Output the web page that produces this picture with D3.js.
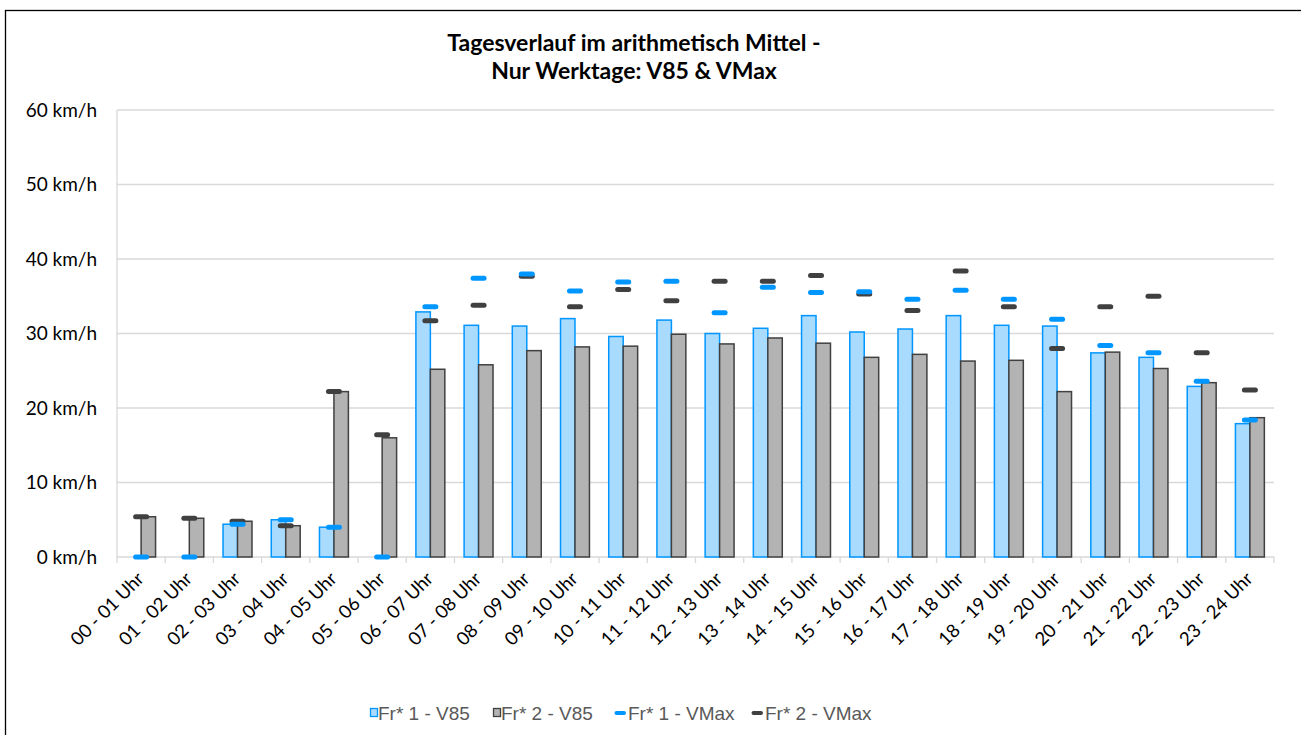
<!DOCTYPE html>
<html><head><meta charset="utf-8">
<script src="https://cdn.jsdelivr.net/npm/d3@7"></script>
<style>body{margin:0;background:#fff}svg{display:block}</style>
</head><body>
<svg id="chart" width="1301" height="735"></svg>
<script>
const categories = ["00 - 01 Uhr","01 - 02 Uhr","02 - 03 Uhr","03 - 04 Uhr","04 - 05 Uhr","05 - 06 Uhr","06 - 07 Uhr","07 - 08 Uhr","08 - 09 Uhr","09 - 10 Uhr","10 - 11 Uhr","11 - 12 Uhr","12 - 13 Uhr","13 - 14 Uhr","14 - 15 Uhr","15 - 16 Uhr","16 - 17 Uhr","17 - 18 Uhr","18 - 19 Uhr","19 - 20 Uhr","20 - 21 Uhr","21 - 22 Uhr","22 - 23 Uhr","23 - 24 Uhr"];
const fr1V85  = [0, 0, 4.4, 5.0, 4.0, 0, 32.9, 31.1, 31.0, 32.0, 29.6, 31.8, 30.0, 30.7, 32.4, 30.2, 30.6, 32.4, 31.1, 31.0, 27.4, 26.8, 22.9, 17.9];
const fr2V85  = [5.4, 5.2, 4.8, 4.2, 22.2, 16.0, 25.2, 25.8, 27.7, 28.2, 28.3, 29.9, 28.6, 29.4, 28.7, 26.8, 27.2, 26.3, 26.4, 22.2, 27.5, 25.3, 23.4, 18.7];
const fr1VMax = [0, 0, 4.4, 5.0, 4.0, 0, 33.6, 37.4, 38.0, 35.7, 36.9, 37.0, 32.8, 36.2, 35.5, 35.6, 34.6, 35.8, 34.6, 31.9, 28.4, 27.4, 23.6, 18.4];
const fr2VMax = [5.4, 5.2, 4.8, 4.2, 22.2, 16.4, 31.7, 33.8, 37.7, 33.6, 35.9, 34.4, 37.0, 37.0, 37.8, 35.3, 33.1, 38.4, 33.6, 28.0, 33.6, 35.0, 27.4, 22.4];
const yTicks = [0, 10, 20, 30, 40, 50, 60];
const titleLines = ["Tagesverlauf im arithmetisch Mittel -", "Nur Werktage: V85 & VMax"];
const legendItems = ["Fr* 1 - V85", "Fr* 2 - V85", "Fr* 1 - VMax", "Fr* 2 - VMax"];

const svg = d3.select("#chart");
const W = 1301, H = 735;
const pLeft = 117, pRight = 1274, pTop = 110, pBottom = 557;
const blueFill = "#a9dbff", blueStroke = "#0096ff", grayFill = "#b3b3b3", grayStroke = "#404040";
const labelFont = "Lato, 'Open Sans', sans-serif";

// outer border
svg.append("rect").attr("x", 5.5).attr("y", 10.5).attr("width", W + 10).attr("height", H + 10)
  .attr("fill", "none").attr("stroke", "#000").attr("stroke-width", 1.3);

const x = d3.scaleBand().domain(categories).range([pLeft, pRight]).padding(0);
const y = d3.scaleLinear().domain([0, 60]).range([pBottom, pTop]);
const bw = x.bandwidth() * 0.3;

// gridlines
svg.append("g").selectAll("line").data(yTicks).join("line")
  .attr("x1", pLeft).attr("x2", pRight).attr("y1", d => y(d)).attr("y2", d => y(d))
  .attr("stroke", "#d9d9d9").attr("stroke-width", 1.3);
svg.append("line").attr("x1", pLeft).attr("x2", pLeft).attr("y1", pTop).attr("y2", pBottom)
  .attr("stroke", "#d9d9d9").attr("stroke-width", 1.3);

// y axis labels
const yAxis = d3.axisLeft(y).tickValues(yTicks).tickSize(0).tickPadding(20).tickFormat(d => d + " km/h");
const gy = svg.append("g").attr("transform", `translate(${pLeft},0)`).call(yAxis);
gy.select(".domain").remove();
gy.selectAll("text").attr("font-family", labelFont).attr("font-size", 19).attr("fill", "#000");

// x axis ticks at category boundaries
const bounds = d3.range(categories.length + 1).map(i => pLeft + i * x.bandwidth());
svg.append("g").selectAll("line").data(bounds).join("line")
  .attr("x1", d => d).attr("x2", d => d).attr("y1", pBottom).attr("y2", pBottom + 6)
  .attr("stroke", "#d9d9d9").attr("stroke-width", 1.3);

// x labels
svg.append("g").selectAll("text").data(categories).join("text")
  .attr("transform", d => `translate(${x(d) + x.bandwidth() / 2 + 4},${pBottom + 23}) rotate(-45)`)
  .attr("text-anchor", "end").attr("font-family", labelFont).attr("font-size", 18.5).attr("fill", "#000")
  .text(d => d);

// bars
const bars = svg.append("g");
bars.selectAll(".b1").data(categories).join("rect").attr("class", "b1")
  .attr("x", d => x(d) + x.bandwidth() / 2 - bw)
  .attr("y", (d, i) => y(fr1V85[i])).attr("width", bw)
  .attr("height", (d, i) => y(0) - y(fr1V85[i]))
  .attr("fill", blueFill).attr("stroke", blueStroke).attr("stroke-width", 1.5)
  .style("display", (d, i) => fr1V85[i] > 0 ? null : "none");
bars.selectAll(".b2").data(categories).join("rect").attr("class", "b2")
  .attr("x", d => x(d) + x.bandwidth() / 2)
  .attr("y", (d, i) => y(fr2V85[i])).attr("width", bw)
  .attr("height", (d, i) => y(0) - y(fr2V85[i]))
  .attr("fill", grayFill).attr("stroke", grayStroke).attr("stroke-width", 1.5);

// VMax markers
const mLen = 11;
function markers(vals, color, cls) {
  svg.append("g").selectAll("line").data(categories).join("line").attr("class", cls)
    .attr("x1", d => x(d) + x.bandwidth() / 2 - mLen / 2)
    .attr("x2", d => x(d) + x.bandwidth() / 2 + mLen / 2)
    .attr("y1", (d, i) => y(vals[i])).attr("y2", (d, i) => y(vals[i]))
    .attr("stroke", color).attr("stroke-width", 5).attr("stroke-linecap", "round");
}
markers(fr2VMax, grayStroke, "m2");
markers(fr1VMax, blueStroke, "m1");

// title
svg.append("g").selectAll("text").data(titleLines).join("text")
  .attr("x", 634).attr("y", (d, i) => 51 + i * 28)
  .attr("text-anchor", "middle").attr("font-family", labelFont).attr("font-weight", "bold")
  .attr("font-size", 23).attr("fill", "#000").text(d => d);

// legend
const legX = [370, 493, 614, 751];
const lg = svg.append("g");
legendItems.forEach((t, i) => {
  const g = lg.append("g").attr("transform", `translate(${legX[i]},713)`);
  if (i < 2) {
    g.append("rect").attr("x", 0.5).attr("y", -4.5).attr("width", 7).attr("height", 8)
      .attr("fill", i === 0 ? blueFill : grayFill).attr("stroke", i === 0 ? blueStroke : grayStroke).attr("stroke-width", 1.3);
  } else {
    g.append("line").attr("x1", 2.5).attr("x2", 10).attr("y1", 0).attr("y2", 0)
      .attr("stroke", i === 2 ? blueStroke : grayStroke).attr("stroke-width", 4).attr("stroke-linecap", "round");
  }
  g.append("text").attr("x", i < 2 ? 8 : 14).attr("y", 6.5).attr("font-family", "'Liberation Sans', Arial, sans-serif")
    .attr("font-size", 19).attr("fill", "#595959").text(t);
});
</script>
</body></html>
